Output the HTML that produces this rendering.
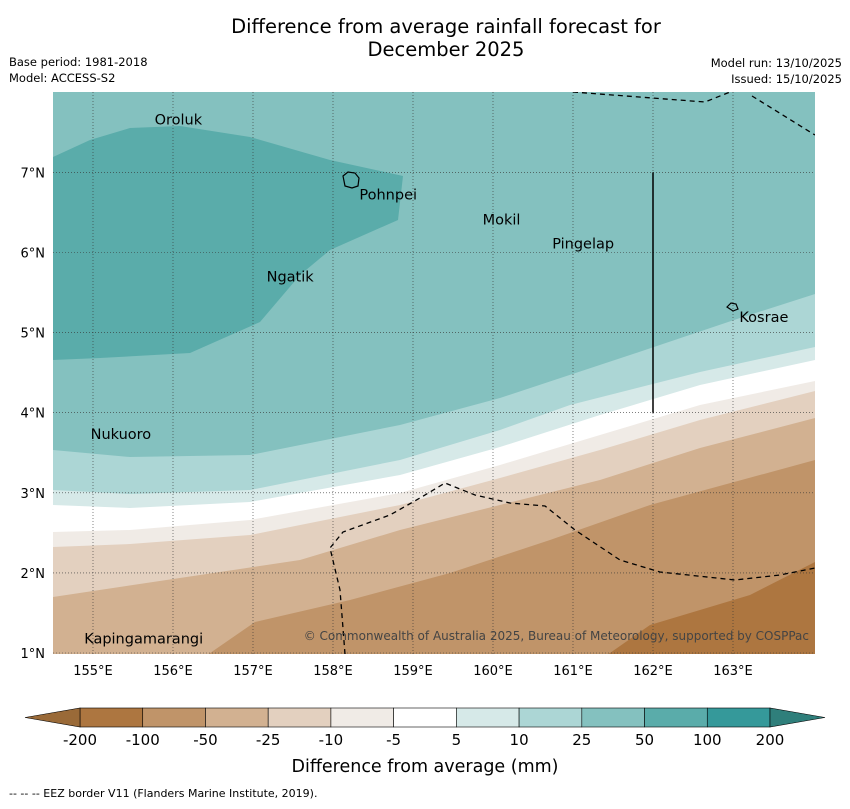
<!DOCTYPE html>
<html><head><meta charset="utf-8"><style>
body{margin:0;background:#fff;font-family:"Liberation Sans","DejaVu Sans",sans-serif;}
</style></head><body>
<svg id="chart" width="850" height="804" xmlns="http://www.w3.org/2000/svg" font-family="DejaVu Sans, Liberation Sans, sans-serif">
<text x="446" y="33" font-size="19.5" text-anchor="middle">Difference from average rainfall forecast for</text>
<text x="446" y="56" font-size="19.5" text-anchor="middle">December 2025</text>
<text x="9" y="66" font-size="11.5">Base period: 1981-2018</text>
<text x="9" y="82" font-size="11.5">Model: ACCESS-S2</text>
<text x="842" y="67" font-size="11.5" text-anchor="end">Model run: 13/10/2025</text>
<text x="842" y="83" font-size="11.5" text-anchor="end">Issued: 15/10/2025</text>
<defs><clipPath id="mapclip"><rect x="53" y="92" width="762" height="562"/></clipPath></defs>
<g id="map" clip-path="url(#mapclip)"></g>
<g id="overlay"></g>
<g id="cbar"></g>
<text x="425" y="772" font-size="17.5" text-anchor="middle">Difference from average (mm)</text>
<text x="9" y="797" font-size="11">--  --  -- EEZ border V11 (Flanders Marine Institute, 2019).</text>
</svg>
<script>
const NS="http://www.w3.org/2000/svg";
const lonMin=154.5, lonMax=164.025, latMin=0.975, latMax=8;
const X=lon=>53+(lon-lonMin)*80;
const Y=lat=>653-(lat-1)*80.1;
const lonTicks=[155,156,157,158,159,160,161,162,163];
const latTicks=[1,2,3,4,5,6,7];
const binLabels=["-200","-100","-50","-25","-10","-5","5","10","25","50","100","200"];
const binColors=["#ad7640","#c09469","#d2b191","#e3d0bf","#f0ebe6","#ffffff","#d6e9e8","#acd6d5","#84c1bf","#5aacaa","#35999a"];
const lowColor="#9a6a38", highColor="#2f7f7b";
function P(pts){return pts.map(p=>[lonMin+(p[0]-53)/80,1+(653-p[1])/80.1]);}
const b25_10=P([[53,450],[130,457],[250,455],[400,425],[500,398],[630,355],[740,318],[815,294]]);
const b10_5=P([[53,490],[130,494],[250,490],[400,460],[500,430],[570,405],[700,372],[815,347]]);
const b5_m5=P([[53,505],[130,508],[250,502],[400,475],[500,447],[600,415],[700,385],[815,360]]);
const bm5_m10=P([[53,532],[130,530],[250,520],[400,493],[500,465],[600,435],[700,405],[815,381]]);
const bm10_m25=P([[53,547],[130,544],[250,535],[400,505],[500,478],[600,450],[700,420],[815,391]]);
const bm25_m50=P([[53,597],[200,575],[300,560],[400,530],[500,505],[600,480],[700,448],[815,418]]);
const bm50_m100=P([[200,660],[255,622],[350,600],[450,573],[550,540],[650,505],[815,460]]);
const bm100_m200=P([[600,660],[650,625],[750,595],[815,562]]);
const wet50=P([[53,157],[90,140],[130,128],[180,126],[250,137],[330,160],[403,176],[398,220],[330,250],[300,275],[260,322],[190,353],[100,358],[53,360]]);
const eezA=P([[573,92],[705,102],[735,90]]);
const eezB=P([[752,96],[815,135]]);
const eezC=P([[345,654],[340,590],[330,548],[343,532],[390,515],[420,498],[445,483],[475,495],[510,503],[545,506],[575,530],[620,560],[660,572],[735,580],[780,575],[815,568]]);
const divLine=[[162,7],[162,4]];
const places=[["Oroluk",155.77,7.6],["Pohnpei",158.33,6.66],["Mokil",159.87,6.35],["Pingelap",160.74,6.05],["Ngatik",157.17,5.64],["Kosrae",163.08,5.13],["Nukuoro",154.97,3.67],["Kapingamarangi",154.89,1.12]];

function mk(tag,attrs,parent){const e=document.createElementNS(NS,tag);for(const k in attrs)e.setAttribute(k,attrs[k]);parent.appendChild(e);return e;}
const map=document.getElementById('map'), ov=document.getElementById('overlay'), cb=document.getElementById('cbar');
const str=pts=>pts.map(p=>X(p[0]).toFixed(1)+","+Y(p[1]).toFixed(1)).join(" ");
function below(b,color,name){
  const pts=b.concat([[b[b.length-1][0],0],[b[0][0],0]]);
  const e=mk('polygon',{points:str(pts),fill:color},map);
  
  
}
const bg=mk('rect',{x:53,y:92,width:762,height:562,fill:binColors[8]},map);


const w=mk('polygon',{points:str(wet50),fill:binColors[9]},map);


below(b25_10,binColors[7],'band-10-25');
below(b10_5,binColors[6],'band-5-10');
below(b5_m5,binColors[5],'band-neutral');
below(bm5_m10,binColors[4],'band-minus10-minus5');
below(bm10_m25,binColors[3],'band-minus25-minus10');
below(bm25_m50,binColors[2],'band-minus50-minus25');
below(bm50_m100,binColors[1],'band-minus100-minus50');
below(bm100_m200,binColors[0],'band-minus200-minus100');
lonTicks.forEach(l=>{const g=mk('line',{x1:X(l),x2:X(l),y1:92,y2:654,stroke:'#333','stroke-width':0.6,'stroke-dasharray':'1,2'},map);


const t=mk('text',{x:X(l),y:675,'font-size':13,'text-anchor':'middle'},ov);t.textContent=l+"°E";

});
latTicks.forEach(l=>{const g=mk('line',{x1:53,x2:815,y1:Y(l),y2:Y(l),stroke:'#333','stroke-width':0.6,'stroke-dasharray':'1,2'},map);


const t=mk('text',{x:45,y:Y(l)+5,'font-size':13,'text-anchor':'end'},ov);t.textContent=l+"°N";

});
[eezA,eezB,eezC].forEach(e=>{const p=mk('polyline',{points:str(e),fill:'none',stroke:'#000','stroke-width':1.3,'stroke-dasharray':'5,4'},map);

});
const dl=mk('line',{x1:X(divLine[0][0]),y1:Y(divLine[0][1]),x2:X(divLine[1][0]),y2:Y(divLine[1][1]),stroke:'#000','stroke-width':1.5},map);


const isl1=mk('path',{d:'M343,176 L348,172 L355,173 L359,178 L358,186 L352,188 L345,186 Z',fill:'none',stroke:'#000','stroke-width':1.2},map);


const isl2=mk('path',{d:'M727,307 L731,303 L736,304 L738,309 L733,311 Z',fill:'none',stroke:'#000','stroke-width':1.2},map);


places.forEach(p=>{const t=mk('text',{x:X(p[1]),y:Y(p[2]),'font-size':14.5},ov);t.textContent=p[0];

});
const cp=mk('text',{x:809,y:640,'font-size':12,'text-anchor':'end',fill:'#444'},ov);
cp.textContent="© Commonwealth of Australia 2025, Bureau of Meteorology, supported by COSPPac";


const cx0=80,cw=(770-80)/binColors.length,cy=708,ch=19;
binColors.forEach((c,i)=>{const r=mk('rect',{x:cx0+i*cw,y:cy,width:cw,height:ch,fill:c,stroke:'#000','stroke-width':0.6},cb);

});
const tl=mk('polygon',{points:`25,${cy+ch/2} ${cx0},${cy} ${cx0},${cy+ch}`,fill:lowColor,stroke:'#000','stroke-width':0.6},cb);


const th=mk('polygon',{points:`825,${cy+ch/2} 770,${cy} 770,${cy+ch}`,fill:highColor,stroke:'#000','stroke-width':0.6},cb);


binLabels.forEach((l,i)=>{const t=mk('text',{x:cx0+i*cw,y:745,'font-size':15,'text-anchor':'middle'},cb);t.textContent=l;

});
</script>
</body></html>
